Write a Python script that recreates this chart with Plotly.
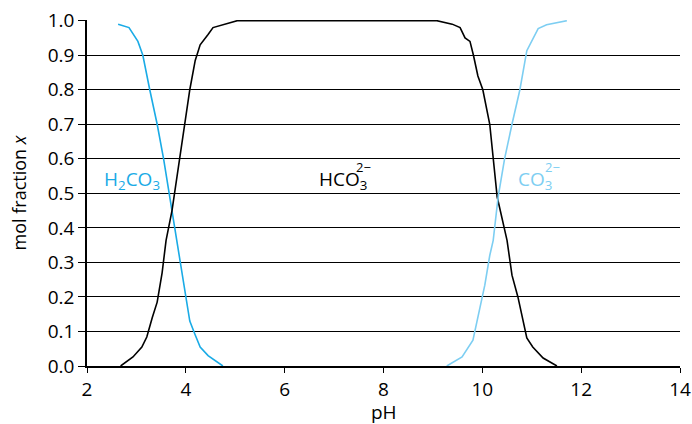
import plotly.graph_objects as go

# H2CO3
ph_h2co3 = [2.63, 2.85, 3.03, 3.13, 3.27, 3.42, 3.55, 3.72, 3.88, 4.0, 4.08, 4.19, 4.29, 4.45, 4.75]
x_h2co3 = [0.99, 0.98, 0.94, 0.90, 0.80, 0.70, 0.60, 0.45, 0.30, 0.20, 0.13, 0.09, 0.055, 0.03, 0.0]

# HCO3
ph_hco3 = [2.68, 2.93, 3.11, 3.21, 3.32, 3.42, 3.52, 3.60, 3.72, 3.85, 3.98, 4.08, 4.19, 4.29, 4.45, 4.55, 5.04,
           9.08, 9.39, 9.55, 9.65, 9.75, 9.82, 9.91, 10.01, 10.15, 10.30, 10.50, 10.60, 10.72, 10.90, 11.02, 11.23, 11.51]
x_hco3 = [0.0, 0.026, 0.055, 0.084, 0.14, 0.185, 0.27, 0.364, 0.45, 0.58, 0.70, 0.80, 0.885, 0.93, 0.96, 0.98, 1.0,
          1.0, 0.99, 0.98, 0.95, 0.94, 0.90, 0.84, 0.80, 0.70, 0.49, 0.364, 0.263, 0.20, 0.081, 0.055, 0.023, 0.0]

# CO3
ph_co3 = [9.28, 9.59, 9.81, 9.91, 10.05, 10.15, 10.22, 10.32, 10.45, 10.60, 10.76, 10.90, 11.0, 11.13, 11.30, 11.71]
x_co3 = [0.0, 0.026, 0.075, 0.145, 0.234, 0.32, 0.364, 0.49, 0.60, 0.70, 0.80, 0.913, 0.94, 0.977, 0.988, 1.0]

y_ticks = [0.0, 0.1, 0.2, 0.3, 0.4, 0.5, 0.6, 0.7, 0.8, 0.9, 1.0]
y_labels = ["0.0", "0.1", "0.2", "0.3", "0.4", "0.5", "0.6", "0.7", "0.8", "0.9", "1.0"]

C_H2CO3 = "#1AABE6"
C_CO3 = "#7DCEF2"
FONT = "Open Sans"
FS = 19

fig = go.Figure()
fig.add_trace(go.Scatter(x=ph_h2co3, y=x_h2co3, mode="lines", line=dict(color=C_H2CO3, width=1.6)))
fig.add_trace(go.Scatter(x=ph_hco3, y=x_hco3, mode="lines", line=dict(color="black", width=1.6)))
fig.add_trace(go.Scatter(x=ph_co3, y=x_co3, mode="lines", line=dict(color=C_CO3, width=1.6)))

def label(x, y, main, sup, color, supshift):
    fig.add_annotation(x=x, y=y, text=main, showarrow=False, xanchor="left", yanchor="middle",
                       font=dict(color=color, size=FS, family=FONT))
    if sup:
        fig.add_annotation(x=x, y=y, text=sup, showarrow=False, xanchor="left", yanchor="middle",
                           xshift=supshift, yshift=13, font=dict(color=color, size=13, family=FONT))

label(2.30, 0.54, "H<sub>2</sub>CO<sub>3</sub>", None, C_H2CO3, 0)
label(6.65, 0.54, "HCO<sub>3</sub>", "2−", "black", 37)
label(10.68, 0.54, "CO<sub>3</sub>", "2−", C_CO3, 27)

# x-axis title placed as paper annotation
fig.add_annotation(x=0.5, y=0, xref="paper", yref="paper", text="pH", showarrow=False,
                   xanchor="center", yanchor="middle", yshift=-46,
                   font=dict(size=FS, family=FONT, color="black"))

fig.update_layout(
    width=692, height=424,
    margin=dict(l=87, r=12, t=20, b=58, autoexpand=False),
    plot_bgcolor="white", paper_bgcolor="white",
    showlegend=False,
    font=dict(family=FONT, size=FS, color="black"),
    xaxis=dict(range=[2, 14], dtick=2, tick0=2, showgrid=False, zeroline=False,
               showline=True, linecolor="black", linewidth=1.5, automargin=False,
               ticks="outside", ticklen=5, tickcolor="black", tickfont=dict(size=FS),
               ticklabeloverflow="allow"),
    yaxis=dict(range=[0, 1.002], tickvals=y_ticks, ticktext=y_labels, showgrid=True,
               gridcolor="black", gridwidth=1, zeroline=False, automargin=False,
               showline=True, linecolor="black", linewidth=1.5,
               ticks="outside", ticklen=7, tickcolor="black", tickfont=dict(size=FS),
               ticklabeloverflow="allow",
               title=dict(text="mol fraction <i>x</i>", standoff=16, font=dict(size=18))),
)

fig.write_html("out.html", config={"displayModeBar": False},
               post_script="document.body.style.margin='0';document.body.style.overflow='hidden';")
